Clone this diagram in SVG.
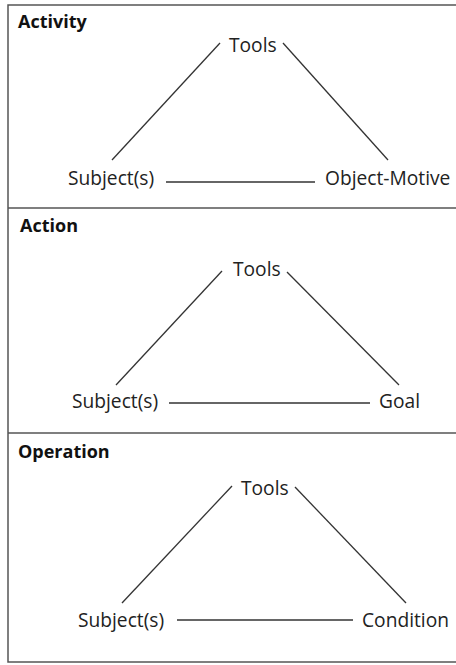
<svg xmlns="http://www.w3.org/2000/svg" width="456" height="665" viewBox="0 0 456 665">
  <style>
    .frame { fill: #fff; stroke: #555; stroke-width: 1.5; }
    .divider { stroke: #555; stroke-width: 1.5; }
    .link { stroke: #333; stroke-width: 1.3; fill: none; }
    .title { font-family: "Open Sans", "Liberation Sans", sans-serif; font-weight: bold; font-size: 18px; fill: #111; }
    .label { font-family: "Open Sans", "Liberation Sans", sans-serif; font-size: 19.2px; fill: #222; }
  </style>
  <rect width="456" height="665" fill="#fff"/>

  <!-- outer frame and section dividers -->
  <rect class="frame" x="8" y="5" width="460" height="657"/>
  <line class="divider" x1="8" y1="208" x2="456" y2="208"/>
  <line class="divider" x1="8" y1="433" x2="456" y2="433"/>

  <!-- section titles -->
  <text class="title" x="18" y="28">Activity</text>
  <text class="title" x="20" y="232">Action</text>
  <text class="title" x="18" y="458">Operation</text>

  <!-- Activity level -->
  <g id="activity-tools"><text class="label" x="229" y="52">Tools</text></g>
  <g id="activity-subject"><text class="label" x="68" y="185">Subject(s)</text></g>
  <g id="activity-object"><text class="label" x="325" y="185">Object-Motive</text></g>

  <!-- Action level -->
  <g id="action-tools"><text class="label" x="233" y="276">Tools</text></g>
  <g id="action-subject"><text class="label" x="72" y="408">Subject(s)</text></g>
  <g id="action-goal"><text class="label" x="379" y="408">Goal</text></g>

  <!-- Operation level -->
  <g id="operation-tools"><text class="label" x="241" y="495">Tools</text></g>
  <g id="operation-subject"><text class="label" x="78" y="627">Subject(s)</text></g>
  <g id="operation-condition"><text class="label" x="362" y="627">Condition</text></g>

  <!-- connectors -->
  <g id="connectors">
    <line class="link" x1="112" y1="160" x2="220" y2="43"/>
    <line class="link" x1="283" y1="43" x2="388" y2="160"/>
    <line class="link" x1="166" y1="182" x2="315" y2="182"/>

    <line class="link" x1="116" y1="385" x2="222" y2="271"/>
    <line class="link" x1="287" y1="272" x2="399" y2="385"/>
    <line class="link" x1="169" y1="403" x2="370" y2="403"/>

    <line class="link" x1="122" y1="603" x2="232" y2="486"/>
    <line class="link" x1="295" y1="487" x2="406" y2="603"/>
    <line class="link" x1="177" y1="620" x2="353" y2="620"/>
  </g>
</svg>
